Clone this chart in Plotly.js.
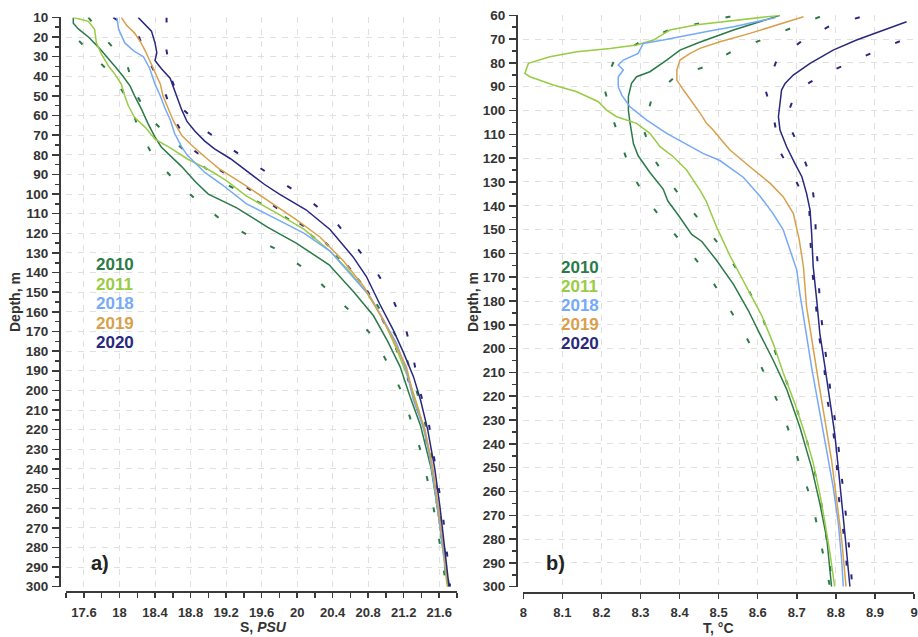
<!DOCTYPE html>
<html>
<head>
<meta charset="utf-8">
<script src="https://cdn.plot.ly/plotly-3.0.1.min.js"></script>
<style>html,body{margin:0;padding:0;background:#fff;}#chart{width:918px;height:637px;}</style>
</head>
<body>
<div id="chart"></div>
<script>
// ---------- Panel a) salinity ----------
const salTicks = [17.6, 18, 18.4, 18.8, 19.2, 19.6, 20, 20.4, 20.8, 21.2, 21.6];
const tempTicks = [8, 8.1, 8.2, 8.3, 8.4, 8.5, 8.6, 8.7, 8.8, 8.9, 9];
const years = ["2010", "2011", "2018", "2019", "2020"];

const dS2010 = [10,13,16,20,25,30,35,40,45,50,57,64,71,76,81,86,94,100,107,117,125,136,150,162,175,188,203,218,240,260,280,300];
const S2010  = [17.48,17.48,17.54,17.65,17.76,17.86,17.95,18.04,18.12,18.17,18.25,18.32,18.40,18.47,18.58,18.70,18.86,19.00,19.32,19.67,19.99,20.36,20.64,20.86,21.02,21.16,21.27,21.39,21.51,21.58,21.64,21.70];

const dS2011 = [10,12,16,23,29,35,39,44,50,55,61,66,72,77,82,88,93,101,110,118,129,140,150,164,179,196,210,230,250,270,300];
const S2011  = [17.48,17.65,17.72,17.74,17.80,17.88,17.95,18.02,18.06,18.10,18.17,18.29,18.40,18.59,18.76,19.02,19.20,19.43,19.78,20.08,20.37,20.60,20.78,20.97,21.12,21.27,21.37,21.48,21.55,21.61,21.69];

const dS2018 = [10,16,23,27,30,36,44,50,56,62,69,76,80,84,89,95,105,113,120,129,142,152,164,176,190,205,220,240,260,280,300];
const S2018  = [17.97,17.99,18.06,18.16,18.27,18.34,18.40,18.46,18.51,18.57,18.62,18.70,18.76,18.85,18.96,19.15,19.43,19.78,20.08,20.37,20.63,20.82,20.97,21.12,21.23,21.31,21.43,21.52,21.58,21.64,21.70];

const dS2019 = [10,14,18,22,27,32,38,44,50,57,63,70,75,81,87,96,105,113,122,134,147,161,174,188,203,220,240,260,280,300];
const S2019  = [18.02,18.08,18.17,18.23,18.29,18.34,18.40,18.46,18.49,18.55,18.61,18.70,18.81,18.96,19.12,19.43,19.73,19.99,20.26,20.52,20.75,20.93,21.08,21.23,21.31,21.44,21.53,21.59,21.65,21.70];

const dS2020 = [10,17,23,28,32,36,41,50,57,63,68,73,77,82,88,95,100,108,118,132,142,156,169,181,193,205,220,240,260,280,300];
const S2020  = [18.21,18.36,18.40,18.42,18.40,18.47,18.57,18.64,18.70,18.76,18.85,18.96,19.07,19.25,19.42,19.63,19.80,20.10,20.37,20.63,20.78,20.93,21.08,21.20,21.31,21.39,21.47,21.55,21.61,21.66,21.71];

// dashed envelopes (2010 and 2020)
const dS2010lo = [10,16,28,38,52,66,81,93,104,114,122,129,139,150,161,173,187,201,217,232,248,263,279,293,300];
const S2010lo  = [17.30,17.42,17.67,17.89,18.10,18.21,18.38,18.62,18.89,19.17,19.49,19.81,20.11,20.37,20.63,20.86,21.03,21.18,21.29,21.40,21.48,21.55,21.61,21.66,21.68];
const dS2010hi = [10,21,33,48,62,73,84,94,102,109,117,128,139,152,166,179,195,210,230,250,270,300];
const S2010hi  = [17.65,17.84,18.08,18.17,18.36,18.61,18.89,19.17,19.47,19.77,20.05,20.35,20.61,20.84,21.03,21.20,21.31,21.41,21.50,21.57,21.63,21.71];
const dS2020lo = [10,19,33,48,61,76,86,95,104,113,122,134,146,161,175,190,205,220,240,260,280,300];
const S2020lo  = [17.93,18.21,18.34,18.51,18.61,18.79,19.07,19.38,19.67,19.96,20.26,20.52,20.75,20.93,21.08,21.22,21.32,21.43,21.52,21.58,21.64,21.69];
const dS2020hi = [10,27,42,57,68,77,86,95,104,114,127,140,153,168,184,200,216,231,247,263,280,296,300];
const S2020hi  = [18.53,18.53,18.59,18.72,18.98,19.26,19.56,19.86,20.16,20.43,20.67,20.90,21.07,21.22,21.31,21.38,21.48,21.53,21.59,21.64,21.68,21.72,21.72];

// ---------- Panel b) temperature ----------
const dT2010 = [60,62.7,66.2,71.5,74.6,78.8,83.7,85.8,88.6,94,100,105,114,119,126,133,138,144,152,155,163,173,184,194,205,217,233,250,265,280,300];
const T2010  = [8.657,8.606,8.538,8.448,8.401,8.367,8.324,8.290,8.277,8.269,8.269,8.273,8.282,8.294,8.324,8.358,8.370,8.397,8.431,8.457,8.495,8.538,8.576,8.606,8.640,8.674,8.708,8.738,8.759,8.777,8.789];

const dT2011 = [60,62.7,64,66.2,70.4,72.5,73.9,75.3,77.4,80.2,84.4,85.8,89.3,92.1,96.3,99.8,102.6,105.4,109.6,115.2,119.4,125,133.4,138,149,161,174,186,198,210,223,236,248,261,273,286,300];
const T2011  = [8.657,8.503,8.444,8.375,8.333,8.290,8.222,8.137,8.068,8.013,8.004,8.017,8.077,8.137,8.192,8.213,8.239,8.290,8.324,8.350,8.384,8.418,8.452,8.468,8.495,8.529,8.572,8.610,8.640,8.665,8.695,8.721,8.742,8.759,8.772,8.785,8.797];

const dT2018 = [61,64.8,66.5,68.3,70.4,71.8,76,78.8,80.9,83,85.8,90,93.5,98.4,104,109.6,115.2,118,121,128,136,143,150,159,167,177,191,208,227,243,258,273,289,300];
const T2018  = [8.645,8.538,8.480,8.427,8.358,8.307,8.294,8.256,8.243,8.256,8.243,8.243,8.252,8.273,8.316,8.367,8.427,8.460,8.503,8.563,8.606,8.638,8.665,8.683,8.700,8.708,8.721,8.738,8.759,8.777,8.793,8.806,8.815,8.819];

const dT2019 = [60.6,64.1,67.6,71.1,73.9,76,78.8,83,87.2,91.4,97,101,105.4,108.2,112,116.6,123.6,130.6,136.2,143.2,154,165.6,182.4,196.4,213.2,230,246.8,263.6,280.4,300];
const T2019  = [8.717,8.648,8.580,8.503,8.452,8.427,8.401,8.393,8.393,8.410,8.435,8.452,8.469,8.486,8.505,8.529,8.580,8.632,8.665,8.691,8.706,8.717,8.725,8.738,8.755,8.772,8.789,8.802,8.815,8.826];

const dT2020 = [62.7,66.9,70.4,74.6,80.2,85.1,88.6,91.4,97,102.6,108.2,115.2,122.2,127.8,134.8,141.8,151.6,165.6,179.6,193.6,207.6,221.6,235.6,249.6,263.6,277.6,300];
const T2020  = [8.981,8.913,8.853,8.793,8.734,8.691,8.670,8.661,8.657,8.653,8.657,8.674,8.695,8.713,8.725,8.734,8.738,8.742,8.751,8.759,8.772,8.785,8.797,8.806,8.815,8.823,8.836];

const dT2010lo = [60.5,66.2,71.1,78.1,89.3,101.9,114.5,126.4,138.3,148.8,158.6,169.1,180.3,191.5,203.4,215.3,227.2,240.5,253.1,265.7,279,291.6,300];
const T2010lo  = [8.530,8.373,8.299,8.235,8.205,8.226,8.252,8.277,8.320,8.371,8.422,8.474,8.516,8.559,8.597,8.632,8.665,8.691,8.715,8.741,8.758,8.775,8.785];
const dT2010hi = [60.6,65.5,70.4,75.3,81.8,85.8,94.9,107.5,120.1,131.3,141.1,151.6,162,174,185.9,198.5,210.4,223,235.6,248.9,261.5,274.1,286.7,300];
const T2010hi  = [8.759,8.683,8.606,8.533,8.461,8.388,8.329,8.307,8.333,8.380,8.427,8.478,8.529,8.572,8.610,8.638,8.665,8.695,8.721,8.742,8.759,8.772,8.781,8.792];
const dT2020lo = [60.8,64.8,71.4,79.1,91.4,104,117.3,129.2,141.1,155.1,167.7,181,194.7,207.6,221.3,234.2,247.5,260.8,273.4,287.4,300];
const T2020lo  = [8.861,8.781,8.708,8.648,8.620,8.642,8.657,8.697,8.732,8.735,8.740,8.748,8.757,8.770,8.778,8.793,8.802,8.806,8.817,8.826,8.832];
const dT2020hi = [66,69,73.9,79.5,84.8,91.4,103.3,115.2,127.8,141.1,155.1,167.7,181,194.7,207.6,221.3,234.2,247.5,260.8,273.4,287.4,300];
const T2020hi  = [9.04,8.994,8.917,8.843,8.768,8.700,8.672,8.706,8.736,8.747,8.749,8.755,8.759,8.768,8.778,8.789,8.802,8.811,8.819,8.828,8.836,8.842];

// ---------- styling ----------
const colors = {"2010":"#2b7a48","2011":"#99cc44","2018":"#76a9f7","2019":"#d9a04c","2020":"#28287e"};
const W = 918, H = 637;
const px = v => v / W;
const py = v => 1 - v / H;
const FONT = "Liberation Sans, Arial, sans-serif";
const DASH = "5px,27px";

function solid(x, y, yr, ax){ return {x:x, y:y, type:"scatter", mode:"lines", xaxis:ax[0], yaxis:ax[1], line:{color:colors[yr], width:1.5}, hoverinfo:"skip"}; }
function dashed(x, y, yr, ax){ return {x:x, y:y, type:"scatter", mode:"lines", xaxis:ax[0], yaxis:ax[1], line:{color:colors[yr], width:2, dash:DASH}, hoverinfo:"skip"}; }

const A = ["x","y"], B = ["x2","y2"];
const traces = [
  dashed(S2010lo, dS2010lo, "2010", A), dashed(S2010hi, dS2010hi, "2010", A),
  dashed(S2020lo, dS2020lo, "2020", A), dashed(S2020hi, dS2020hi, "2020", A),
  solid(S2010, dS2010, "2010", A), solid(S2011, dS2011, "2011", A),
  solid(S2018, dS2018, "2018", A), solid(S2019, dS2019, "2019", A),
  solid(S2020, dS2020, "2020", A),
  dashed(T2010lo, dT2010lo, "2010", B), dashed(T2010hi, dT2010hi, "2010", B),
  dashed(T2020lo, dT2020lo, "2020", B), dashed(T2020hi, dT2020hi, "2020", B),
  solid(T2010, dT2010, "2010", B), solid(T2011, dT2011, "2011", B),
  solid(T2018, dT2018, "2018", B), solid(T2019, dT2019, "2019", B),
  solid(T2020, dT2020, "2020", B)
];

const tickFontX = {family:FONT, size:13, color:"#333", weight:"bold"};
const tickFontY = {family:FONT, size:13.5, color:"#333", weight:"bold"};
const grid = {showgrid:true, gridcolor:"#e0e0e0", gridwidth:1, griddash:"6px,6px", zeroline:false,
              showline:true, linecolor:"#3a3a3a", linewidth:2, ticks:"outside", tickcolor:"#3a3a3a", tickwidth:1.5, fixedrange:true};

function xAxis(dom, pos, range, vals, minorDt){
  return Object.assign({}, grid, {domain:dom, anchor:"free", position:pos, range:range,
    tickmode:"array", tickvals:vals, ticktext:vals.map(String), ticklen:5, ticklabelstandoff:3, tickfont:tickFontX,
    minor: minorDt ? {tickmode:"linear", tick0:range[0], dtick:minorDt, ticks:"outside", ticklen:5, tickcolor:"#3a3a3a", tickwidth:1.5, showgrid:false} : undefined});
}
function yAxis(dom, pos, range){
  return Object.assign({}, grid, {domain:dom, anchor:"free", position:pos, range:range,
    tickmode:"linear", tick0:range[1], dtick:10, ticklen:7, ticklabelstandoff:1, tickfont:tickFontY,
    minor:{tickmode:"linear", dtick:5, ticks:"outside", ticklen:4, tickcolor:"#3a3a3a", tickwidth:1.5, showgrid:false}});
}

const layout = {
  width:W, height:H, autosize:false,
  margin:{l:0, r:0, t:0, b:0, pad:0},
  paper_bgcolor:"#fff", plot_bgcolor:"#fff",
  showlegend:false,
  font:{family:FONT, color:"#333"},
  xaxis: xAxis([px(66.2), px(457)], py(592), [17.4, 21.8], salTicks, 0.2),
  yaxis: yAxis([py(586.7), py(17.4)], px(60), [300, 10]),
  xaxis2: xAxis([px(523.3), px(914)], py(592.7), [8, 9], tempTicks, null),
  yaxis2: yAxis([py(586.7), py(15.3)], px(517), [300, 60]),
  annotations: []
};

function ann(text, x, y, opts){
  layout.annotations.push(Object.assign({text:text, xref:"paper", yref:"paper", x:px(x), y:py(y), showarrow:false,
    xanchor:"center", yanchor:"middle", font:{family:FONT, size:14, color:"#333"}}, opts||{}));
}
ann("<b>Depth, m</b>", 15, 302, {textangle:-90});
ann("<b>Depth, m</b>", 473, 302, {textangle:-90});
ann("<b>S, <i>PSU</i></b>", 263, 627);
ann("<b>T, °C</b>", 718, 628);
ann("<b>a)</b>", 89, 563, {xanchor:"left", font:{family:FONT, size:20, color:"#222"}});
ann("<b>b)</b>", 544, 563, {xanchor:"left", font:{family:FONT, size:20, color:"#222"}});

const legYa = [265, 284, 303, 323, 342];
const legYb = [267, 286, 305, 324, 343];
years.forEach((yr, i) => {
  ann("<b>" + yr + "</b>", 94, legYa[i], {xanchor:"left", font:{family:FONT, size:17, color:colors[yr]}});
  ann("<b>" + yr + "</b>", 559, legYb[i], {xanchor:"left", font:{family:FONT, size:17, color:colors[yr]}});
});

Plotly.newPlot("chart", traces, layout, {staticPlot:true, displayModeBar:false});
</script>
</body>
</html>
